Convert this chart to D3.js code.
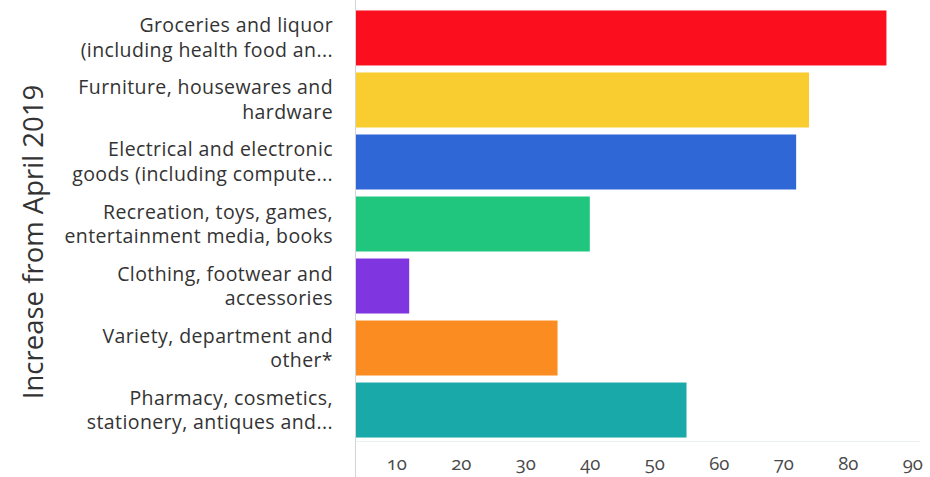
<!DOCTYPE html>
<html lang="en">
    <head>
        <meta charset="utf-8">
        <title>Increase from April 2019</title>
        <script src="https://cdn.jsdelivr.net/npm/d3@7"></script>
        <style>
            body { margin: 0; background: #fff; }
            svg { display: block; font-family: "Open Sans", "Noto Sans", sans-serif; }
        </style>
    </head>
    <body>
        <script>
            // categories (two display lines each, as in the chart)
            var categories = [
                ["Groceries and liquor", "(including health food an..."],
                ["Furniture, housewares and", "hardware"],
                ["Electrical and electronic", "goods (including compute..."],
                ["Recreation, toys, games,", "entertainment media, books"],
                ["Clothing, footwear and", "accessories"],
                ["Variety, department and", "other*"],
                ["Pharmacy, cosmetics,", "stationery, antiques and..."]
            ];
            var values = [86, 74, 72, 40, 12, 35, 55];
            var colors = ["#fb0f1e", "#f9cd2f", "#2f68d6", "#20c57e", "#7f36e0", "#fb8c22", "#1aa9a9"];
            var tickValues = [10, 20, 30, 40, 50, 60, 70, 80, 90];

            var w = 930, h = 477;

            var svg = d3.select("body").append("svg")
                .attr("width", w)
                .attr("height", h);

            // x scale - axis line does not sit at zero in the original
            var xScale = d3.scaleLinear()
                .domain([3.75, 92.6])
                .range([356, 929]);

            var yScale = d3.scaleBand()
                .domain(d3.range(categories.length))
                .range([7, 441])
                .paddingInner(0.113)
                .paddingOuter(0.056);

            // faint baseline
            svg.append("line")
                .attr("x1", 356).attr("x2", 920)
                .attr("y1", 441.5).attr("y2", 441.5)
                .attr("stroke", "#eaf1f3");

            svg.selectAll("rect.bar")
                .data(values)
                .enter()
                .append("rect")
                .attr("class", "bar")
                .attr("x", xScale.range()[0])
                .attr("y", function(d, i){ return yScale(i); })
                .attr("width", function(d){ return xScale(d) - xScale.range()[0]; })
                .attr("height", yScale.bandwidth())
                .attr("fill", function(d, i){ return colors[i]; });

            // x axis labels, no tick marks
            var xAxis = d3.axisBottom(xScale)
                .tickValues(tickValues)
                .tickSize(0)
                .tickPadding(0);

            var gx = svg.append("g")
                .attr("transform", "translate(0,457)")
                .call(xAxis);
            gx.select(".domain").remove();
            gx.selectAll("text")
                .attr("font-family", "'Open Sans', 'Noto Sans', sans-serif")
                .attr("font-size", "18.5px")
                .attr("fill", "#4a4a4a")
                .style("font-feature-settings", "'onum'");

            // y axis line
            svg.append("line")
                .attr("x1", 355.5).attr("x2", 355.5)
                .attr("y1", 0).attr("y2", h)
                .attr("stroke", "#d4d4d4");

            // category labels
            var lab = svg.selectAll("text.cat")
                .data(categories)
                .enter()
                .append("text")
                .attr("class", "cat")
                .attr("text-anchor", "end")
                .attr("font-size", "19.5px")
                .attr("letter-spacing", "0.4px")
                .attr("fill", "#333")
                .attr("y", function(d, i){ return yScale(i) + yScale.bandwidth() / 2; });

            lab.selectAll("tspan")
                .data(function(d){ return d; })
                .enter()
                .append("tspan")
                .attr("x", 333)
                .attr("dy", function(d, j){ return j === 0 ? -5.5 : 24.5; })
                .text(function(d){ return d; });

            // y axis title
            svg.append("text")
                .attr("transform", "translate(43,242) rotate(-90)")
                .attr("text-anchor", "middle")
                .attr("font-size", "27.5px")
                .attr("fill", "#333")
                .text("Increase from April 2019");
        </script>
    </body>
</html>
